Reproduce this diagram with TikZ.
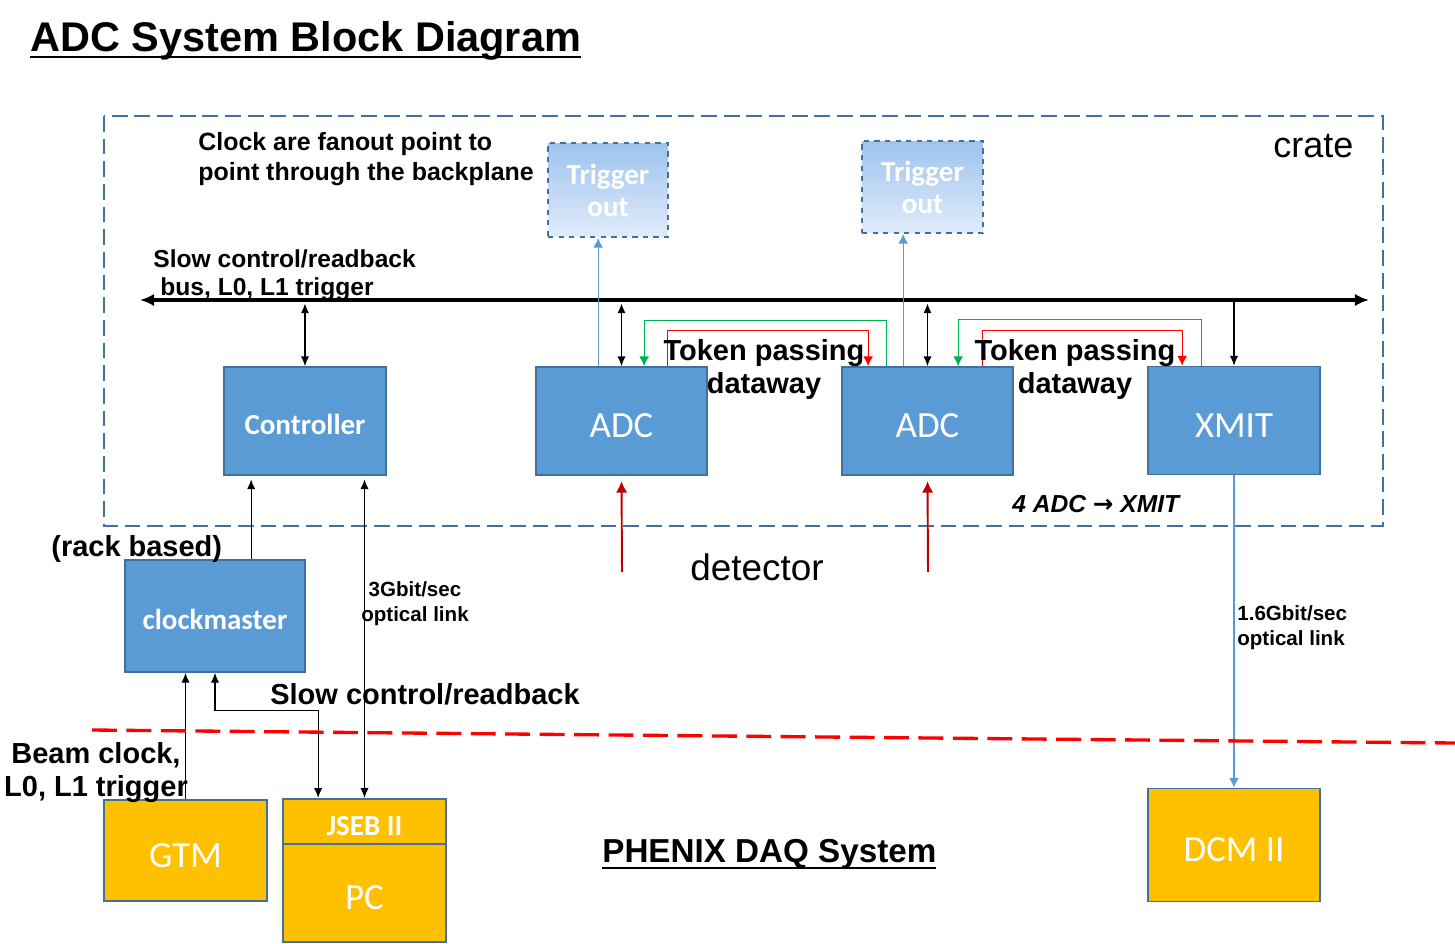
\documentclass[tikz,border=0pt]{standalone}
\usepackage{fontspec}
\setmainfont{Liberation Sans}
\newfontfamily\calibri{Carlito}
\newfontfamily\arrowfont{DejaVu Sans}
\usetikzlibrary{calc,arrows.meta}
\definecolor{boxblue}{RGB}{91,155,213}
\definecolor{rimblue}{RGB}{65,113,156}
\definecolor{daqgold}{RGB}{255,192,0}
\definecolor{trigtop}{RGB}{157,195,238}
\definecolor{trigbot}{RGB}{225,236,250}
\definecolor{tokgreen}{RGB}{0,176,80}
\definecolor{tokred}{RGB}{255,0,0}
\definecolor{detred}{RGB}{192,0,0}
\newcommand{\ulinetext}[1]{\setbox0\hbox{#1}\rlap{\rule[-4.2pt]{\wd0}{1.4pt}}\box0}
\tikzset{
  >={Latex[length=5.5pt,width=4.6pt]},
}
\tikzstyle{block}=[draw=rimblue,line width=1pt,fill=boxblue,text=white,font=\calibri\fontsize{21}{25}\selectfont,text height=22pt,text depth=3.2pt]
\tikzstyle{bold block}=[block,font=\calibri\bfseries\fontsize{16.5}{20}\selectfont,text height=17.3pt,text depth=2.5pt]
\tikzstyle{daq}=[block,fill=daqgold]
\tikzstyle{trigbox}=[draw=rimblue,dashed,line width=1pt,top color=trigtop,bottom color=trigbot,text=white,align=center,font=\calibri\bfseries\fontsize{16.5}{18.2}\selectfont]
\tikzstyle{crate}=[draw=rimblue,line width=1.1pt,dash pattern=on 9pt off 3.9pt]
\tikzstyle{bus}=[line width=2.3pt,{Latex[length=8pt,width=7pt]}-{Latex[length=8pt,width=7pt]}]
\tikzstyle{wire}=[line width=0.6pt]
\tikzstyle{fibre}=[line width=0.6pt,boxblue,-{Latex[length=5.5pt,width=5.5pt]}]
\tikzstyle{token}=[line width=0.6pt,-{Latex[length=5.5pt,width=5.5pt]}]
\tikzstyle{sensor}=[line width=1.1pt,detred,-{Latex[length=6.5pt,width=6.5pt]},shorten >=3pt]
\tikzstyle{note}=[inner sep=0pt,align=left,font=\bfseries\fontsize{16.5}{19}\selectfont]
\tikzstyle{tag}=[inner sep=0pt,align=left,font=\bfseries\fontsize{11.7}{14.5}\selectfont]

\begin{document}
\begin{tikzpicture}[x=0.02cm,y=-0.02cm]
  \useasboundingbox (0,0) rectangle (1455,944);
  \node[anchor=base west,inner sep=0pt,font=\bfseries\fontsize{23.6}{28}\selectfont] (title) at (30,51) {\ulinetext{ADC System Block Diagram}};
  \draw[crate] (104,116) rectangle (1383,526);
  \node[anchor=base west,inner sep=0pt,font=\fontsize{20.5}{24}\selectfont] (cratelbl) at (1273,157) {crate};

  \node[bold block,minimum width=3.24cm,minimum height=2.16cm] (ctrl) at (305,421) {Controller};
  \node[block,minimum width=3.42cm,minimum height=2.16cm] (adcA) at (621.5,421) {ADC};
  \node[block,minimum width=3.42cm,minimum height=2.16cm] (adcB) at (927.5,421) {ADC};
  \node[block,minimum width=3.44cm,minimum height=2.16cm] (xmit) at (1234,420.5) {XMIT};
  \node[bold block,minimum width=3.6cm,minimum height=2.24cm] (clk) at (215,616) {clockmaster};
  \node[daq,minimum width=3.26cm,minimum height=2.02cm] (gtm) at (185.5,850.5) {GTM};
  \node[daq,font=\calibri\bfseries\fontsize{16.5}{20}\selectfont,text height=17.3pt,text depth=2.5pt,minimum width=3.26cm,minimum height=0.88cm] (jseb) at (364.5,822) {JSEB II};
  \node[daq,minimum width=3.26cm,minimum height=1.96cm] (pc) at (364.5,893) {PC};
  \node[daq,minimum width=3.44cm,minimum height=2.26cm] (dcm) at (1234,845) {DCM II};
  \node[trigbox,minimum width=2.4cm,minimum height=1.88cm] (trigA) at (608,190) {Trigger\\out};
  \node[trigbox,minimum width=2.42cm,minimum height=1.84cm] (trigB) at (922.5,187) {Trigger\\out};

  \coordinate (busL) at (140,300);
  \coordinate (busR) at (1369,300);
  \draw[bus] (busL) -- (busR);
  \draw[wire,<->,shorten <=2pt] (ctrl.north |- busL) -- (ctrl.north);
  \draw[wire,<->,shorten <=2pt] (adcA.north |- busL) -- (adcA.north);
  \draw[wire,<->,shorten <=2pt] (adcB.north |- busL) -- (adcB.north);
  \draw[wire,->] (xmit.north |- busR) -- (xmit.north);

  \coordinate (tA) at ($(adcA.north west)+(63,0)$);
  \coordinate (tB) at ($(adcB.north west)+(62,0)$);
  \draw[fibre] (tA) -- (tA |- trigA.south);
  \draw[fibre] (tB) -- (tB |- trigB.south);

  \draw[token,tokgreen] ($(adcB.north west)+(45,0)$) -- ++(0,-46) -| ($(adcA.north west)+(109,0)$);
  \draw[token,tokred] ($(adcA.north west)+(132,0)$) -- ++(0,-36) -| ($(adcB.north west)+(27,0)$);
  \draw[token,tokgreen] ($(xmit.north west)+(54,0)$) -- ++(0,-46) -| ($(adcB.north west)+(117,0)$);
  \draw[token,tokred] ($(adcB.north west)+(141,0)$) -- ++(0,-36) -| ($(xmit.north west)+(35,0)$);

  \coordinate (detA) at (622,572);
  \coordinate (detB) at (928,572);
  \draw[sensor] (detA) -- (adcA.south);
  \draw[sensor] (detB) -- (adcB.south);

  \coordinate (cU) at ($(clk.north west)+(127,0)$);
  \draw[wire,->,shorten >=2pt] (cU) -- (cU |- ctrl.south);
  \draw[wire,<->,shorten >=2pt] (jseb.north) -- (jseb.north |- ctrl.south);
  \draw[wire,->] (gtm.north) -- (gtm.north |- clk.south);
  \coordinate (jS) at ($(jseb.north west)+(36,0)$);
  \draw[wire,<->] (clk.south) -- ++(0,38) -| (jS);
  \draw[fibre] (xmit.south) -- (dcm.north);

  \draw[tokred,line width=1.9pt,dash pattern=on 14.2pt off 5.4pt] (92,730) -- (1455,743);

  \node[note,anchor=north west,font=\bfseries\fontsize{14.2}{17}\selectfont] (fanout) at (198,132) {Clock are fanout point to\\point through the backplane};
  \node[note,anchor=north west,font=\bfseries\fontsize{14}{15.9}\selectfont] (buslbl) at (153,249) {Slow control/readback\\\hspace*{4pt}bus, L0, L1 trigger};
  \node[note,anchor=north,align=center] (tokA) at (764,339) {Token passing\\dataway};
  \node[note,anchor=north,align=center] (tokB) at (1075,339) {Token passing\\dataway};
  \node[anchor=base west,inner sep=0pt,font=\bfseries\itshape\fontsize{14}{17}\selectfont] (ratio) at (1012,512) {4 ADC {\arrowfont\bfseries\upshape →} XMIT};
  \node[anchor=base west,inner sep=0pt,font=\fontsize{21}{25}\selectfont] (det) at (690,580) {detector};
  \node[note,anchor=base west] (rack) at (51,556) {(rack based)};
  \node[tag,anchor=north,align=center] (fibreA) at (415,581) {3Gbit/sec\\optical link};
  \node[tag,anchor=north west] (fibreB) at (1237,605) {1.6Gbit/sec\\optical link};
  \node[note,anchor=base west] (slowlbl) at (270,704) {Slow control/readback};
  \node[note,anchor=north,align=center] (beam) at (96,742) {Beam clock,\\L0, L1 trigger};
  \node[anchor=base west,inner sep=0pt,font=\bfseries\fontsize{18.9}{22}\selectfont] (phenix) at (602,862) {\ulinetext{PHENIX DAQ System}};
\end{tikzpicture}
\end{document}
